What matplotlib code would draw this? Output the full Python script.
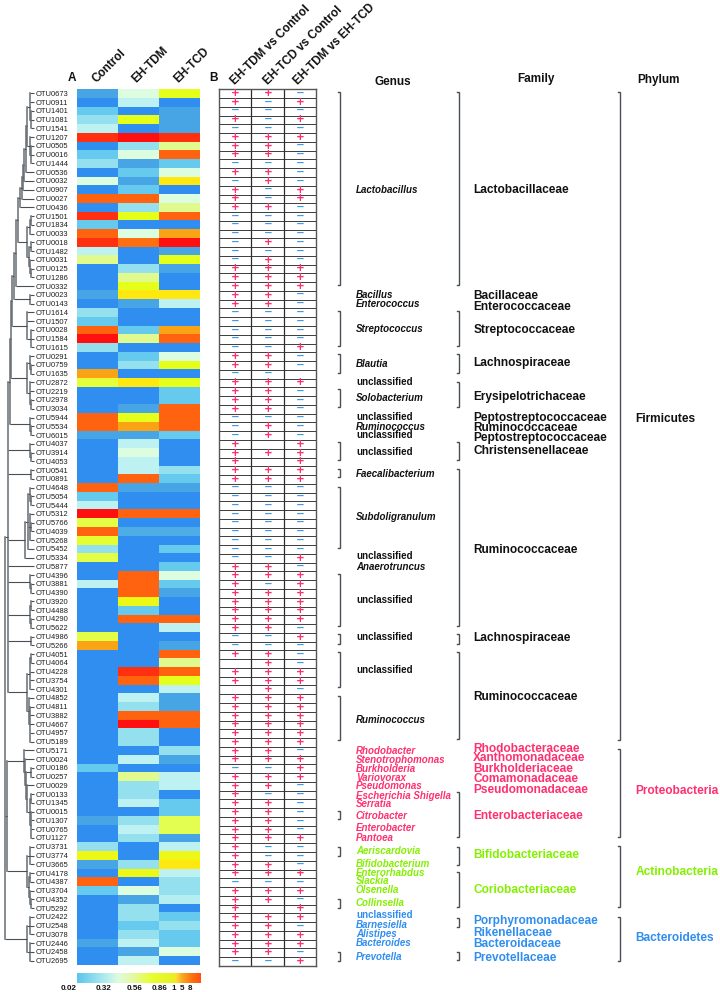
import matplotlib
matplotlib.use("Agg")
import matplotlib.pyplot as plt
from matplotlib.colors import LinearSegmentedColormap, FuncNorm
import numpy as np

plt.rcParams['font.family'] = ['Liberation Sans', 'DejaVu Sans']

W, H = 720, 992

otus = """OTU0673 OTU0911 OTU1401 OTU1081 OTU1541 OTU1207 OTU0505 OTU0016 OTU1444 OTU0536
OTU0032 OTU0907 OTU0027 OTU0436 OTU1501 OTU1834 OTU0033 OTU0018 OTU1482 OTU0031
OTU0125 OTU1286 OTU0332 OTU0023 OTU0143 OTU1614 OTU1507 OTU0028 OTU1584 OTU1615
OTU0291 OTU0759 OTU1635 OTU2872 OTU2219 OTU2978 OTU3034 OTU5944 OTU5534 OTU6015
OTU4037 OTU3914 OTU4053 OTU0541 OTU0891 OTU4648 OTU5054 OTU5444 OTU5312 OTU5766
OTU4039 OTU5268 OTU5452 OTU5334 OTU5877 OTU4396 OTU3881 OTU4390 OTU3920 OTU4488
OTU4290 OTU5622 OTU4986 OTU5266 OTU4051 OTU4064 OTU4228 OTU3754 OTU4301 OTU4852
OTU4811 OTU3882 OTU4667 OTU4957 OTU5189 OTU5171 OTU0024 OTU0186 OTU0257 OTU0029
OTU0133 OTU1345 OTU0015 OTU1307 OTU0765 OTU1127 OTU3731 OTU3774 OTU3665 OTU4178
OTU4387 OTU3704 OTU4352 OTU5292 OTU2422 OTU2548 OTU3078 OTU2446 OTU2458 OTU2695""".split()

groups = ["Control", "EH-TDM", "EH-TCD"]
comparisons = ["EH-TDM vs Control", "EH-TCD vs Control", "EH-TDM vs EH-TCD"]

control = [
    .08, .02, .16, .24, .32, 6.5, .02, .16, .24, .02,
    .42, .02, 5, .02, 6.5, .16, 5, 6.5, .32, .56,
    .02, .02, .02, .08, .02, .24, .16, 5, 8, .24,
    .02, .02, 2, .78, .02, .02, .02, 5, 5, .08,
    .02, .02, .02, .02, .02, 5, .16, .32, 8, .75,
    5, .8, .24, .75, .02, .02, .32, .02, .02, .02,
    .02, .02, .75, 2, .02, .02, .02, .02, .02, .02,
    .02, .02, .02, .02, .02, .02, .02, .16, .02, .02,
    .02, .02, .02, .08, .02, .02, .24, .9, .08, .02,
    5, .16, .02, .02, .02, .02, .02, .08, .02, .02]
eh_tdm = [
    .42, .32, .02, .86, .02, 8, .24, .42, .08, .16,
    .08, .16, 5, .24, .86, .02, .42, 4.5, .02, .02,
    .24, .56, .86, 1, .08, .02, .02, .16, .56, .02,
    .16, .24, .02, 1, .02, .02, .08, .86, 2, .08,
    .32, .42, .32, .32, 5, .08, .02, .02, 5, .02,
    .1, .02, .02, .02, .02, 5, 5, 5, .9, .16,
    5, .02, .02, .02, .02, .02, 6.5, 5, .02, .32,
    .24, 5, 8, .24, .24, .02, .32, .02, .56, .24,
    .24, .32, .02, .24, .32, .24, .02, .02, .24, .9,
    .02, .42, .08, .24, .24, .16, .24, .32, .08, .32]
eh_tcd = [
    .86, .02, .08, .08, .08, 6.5, .56, 5, .16, .42,
    1, .02, .42, .56, 5, .02, 2, 8, .08, .86,
    .08, .02, .02, 1, .32, .02, .02, 2, 5, .02,
    .42, .86, .02, .86, .16, .16, 5, 5, 5, .16,
    .02, .02, .02, .24, .16, .08, .02, .02, 5, .02,
    .1, .02, .16, .02, .16, .42, .16, .08, .02, .02,
    5, .32, .02, .08, 5, .56, 5, .86, .32, .08,
    .08, 5, 5, .02, .02, .24, .08, .02, .32, .32,
    .02, .16, .16, .72, .72, .08, .32, .9, 1, .32,
    .24, .24, .3, .02, .16, .24, .16, .16, .42, .02]

# + up, - down, . not called
tdm_vs_control = list("++-+-+++-+" "-+++------" "+++++-----" "++-++++---" "+++++-----"
                      "----++++++" "++--+.++.+" "+++++++-++" "++++++++++" "-++++++++-")
tcd_vs_control = list("+----+++-+" "+--+---+-+" "+++++-----" "++-++++-++" ".+.++-----"
                      "----++-+++" "++--++++++" "+++++++-++" "-+++++--++" "-++.+++++-")
tdm_vs_tcd = list("-+-+-+----" "-++-------" "+++------+" "--.+------" "+++++-----"
                  "---+-+++++" "+-+---++-+" "+++++-+++-" "-----+---+" "-+-++-++-+")

# clustering, as (merge height, children); a bare int is a row
t0 = (27, [(30, [0, 1, (31, [2, 3, 4])]), (30, [5, (31, [6, 7, 8])])])
chain = (26, [t0, 9])
chain = (24, [chain, 10])
chain = (23, [chain, 11])
chain = (22, [chain, 12])
chain = (20, [chain, 13])
g14 = (27, [(30, [(31, [14, 15]), 16]), (29, [(31, [17, 18]), (30, [19, (31, [20, 21])])])])
chain = (18, [chain, g14])
chain = (16, [chain, 22])
chain = (13.5, [chain, (30, [23, 24])])
chain = (12, [chain, (27, [25, 26, (31, [27, 28, 29])])])
chain = (10.5, [chain, (27, [(30, [30, (31, [31, 32])]), (30, [33, 34, (31, [35, 36])])])])
chain = (9.5, [chain, (30, [37, (31, [38, 39])])])
g45 = (25, [(28, [(30, [45, (31, [46, 47])]), (30, [48, (31, [49, 50]), 51]), 52]), 53])
g64 = (27, [(30, [(31, [64, 65]), 66, 67, 68]), (29, [69, (30, [70, 71, 72, 73, 74])])])
upper = (8, [chain, (30, [40, (31, [41, 42])]), (31, [43, 44]), g45, 54,
             (30, [55, (31, [56, 57])]), (30, [(31, [58, 59]), (31, [60, 61])]),
             (31, [62, 63]), g64])
g75 = (24, [75, (25, [76, (26, [(31, [77, 78]), (27, [79, (30, [(31, [80, 81]),
      (31, [82, 83, 84, 85])])])])])])
g86 = (27, [(30, [86, 87, 88]), (29, [(30, [89, 90]), (30, [91, (31, [92, 93])])])])
g94 = (27, [(30, [94, 95, 96]), (30, [97, 98, 99])])
tree = (5, [upper, (7, [g75, g86]), g94])

genus_names = ["Lactobacillus", "Bacillus", "Enterococcus", "Streptococcus", "Blautia", "unclassified",
               "Solobacterium", "unclassified", "Ruminococcus", "unclassified", "unclassified",
               "Faecalibacterium", "Subdoligranulum", "unclassified", "Anaerotruncus", "unclassified",
               "unclassified", "unclassified", "Ruminococcus", "Rhodobacter", "Stenotrophomonas",
               "Burkholderia", "Variovorax", "Pseudomonas", "Escherichia Shigella", "Serratia",
               "Citrobacter", "Enterobacter", "Pantoea", "Aeriscardovia", "Bifidobacterium",
               "Enterorhabdus", "Slackia", "Olsenella", "Collinsella", "unclassified", "Barnesiella",
               "Alistipes", "Bacteroides", "Prevotella"]
genus_y = [190, 295, 304, 329.3, 363.7, 381.7, 398.3, 416.7, 426.7, 435.3, 451.7, 474.3, 517.3, 555.7,
           566.7, 600.3, 637, 670.3, 720, 751, 760, 769, 777.7, 786, 795.7, 804, 815.7, 828.3, 837.7,
           850.7, 863.7, 872.7, 881.3, 890.3, 902.7, 915.3, 925.3, 934, 942.7, 956.7]
family_names = ["Lactobacillaceae", "Bacillaceae", "Enterococcaceae", "Streptococcaceae", "Lachnospiraceae",
                "Erysipelotrichaceae", "Peptostreptococcaceae", "Ruminococcaceae", "Peptostreptococcaceae",
                "Christensenellaceae", "Ruminococcaceae", "Lachnospiraceae", "Ruminococcaceae",
                "Rhodobacteraceae", "Xanthomonadaceae", "Burkholderiaceae", "Comamonadaceae",
                "Pseudomonadaceae", "Enterobacteriaceae", "Bifidobacteriaceae", "Coriobacteriaceae",
                "Porphyromonadaceae", "Rikenellaceae", "Bacteroidaceae", "Prevotellaceae"]
family_y = [190, 295.7, 306.7, 329.7, 363.3, 397, 418.3, 428, 437.7, 451, 550, 638.3, 697, 749, 758.3,
            768.7, 779, 789.7, 816, 854.7, 890, 920.7, 933, 944.3, 957.7]
phylum_names = ["Firmicutes", "Proteobacteria", "Actinobacteria", "Bacteroidetes"]
phylum_y = [419, 791, 872.3, 938.3]

genus_spans = [(91.7, 285.3), (311, 346), (354.3, 372.7), (389.3, 407.3), (442.3, 460.3), (468.7, 477),
               (486.7, 548), (573.7, 625.7), (634.3, 643.7), (652.3, 687.3), (696, 740), (810.7, 819.3),
               (847.3, 856), (899, 907.7), (952, 960.7)]
family_spans = [(91.7, 285.3), (311, 346), (354.3, 372.7), (381.7, 407.3), (442.3, 460.3), (468.7, 625.7),
                (634.3, 643.7), (652.3, 739.3), (792.3, 837), (847.3, 865.3), (872.3, 907.3),
                (918.3, 927.3), (951.7, 960)]
phylum_spans = [(92.3, 740), (749.3, 836.7), (846, 907.3), (916.7, 960.7)]

scale_labels = ["0.02", "0.32", "0.56", "0.86", "1", "5", "8"]
scale_x = [69, 103, 135, 160, 174, 182, 190]

pink = "#FF3070"
lime = "#84F000"
blue = "#2F8EEF"
black = "#111111"
line = "#4A4F55"

genus_color = [black] * 19 + [pink] * 10 + [lime] * 6 + [blue] * 5
family_color = [black] * 13 + [pink] * 6 + [lime] * 2 + [blue] * 4
phylum_color = [black, pink, lime, blue]

# heat colours are anchored on the abundance steps of the scale bar
steps = [0.02, 0.08, 0.16, 0.24, 0.32, 0.42, 0.56, 0.86, 1, 2, 5, 6.5, 8]
step_colors = ["#2F8EEF", "#47A5E5", "#66CBEE", "#93E0EE", "#BEF2F2", "#DDFDE0", "#E0FA90",
               "#E6FF1A", "#FFE810", "#F9A515", "#FF6410", "#FF3010", "#FF1010"]
pos = np.linspace(0, 1, len(steps))
cmap = LinearSegmentedColormap.from_list("abund", list(zip(pos, step_colors)))
norm = FuncNorm((lambda v: np.interp(v, steps, pos), lambda p: np.interp(p, pos, steps)), vmin=0.02, vmax=8)

fig = plt.figure(figsize=(W / 100, H / 100), dpi=100, facecolor="white")


def px_axes(x0, y0, x1, y1):
    return fig.add_axes([x0 / W, 1 - y1 / H, (x1 - x0) / W, (y1 - y0) / H])


# overlay in pixel coordinates, for the annotation columns
over = px_axes(0, 0, W, H)
over.set_xlim(0, W)
over.set_ylim(H, 0)
over.axis("off")

# A: heatmap
ax = px_axes(76.5, 89, 199.7, 965)
matrix = np.array([control, eh_tdm, eh_tcd]).T
ax.pcolormesh(np.arange(4), np.arange(101), matrix, cmap=cmap, norm=norm, shading="flat")
ax.set_ylim(100, 0)
ax.set_xticks([])
ax.set_yticks(np.arange(100) + 0.5)
ax.set_yticklabels(otus, fontsize=5.45, color="#1c1c1c")
ax.tick_params(axis="y", length=0, pad=6)
for side in ax.spines.values():
    side.set_visible(False)

# dendrogram shares the row scale of the heatmap
den = px_axes(0, 89, 36, 965)
den.set_xlim(0, 36)
den.set_ylim(100, 0)
den.axis("off")


def draw(node):
    if isinstance(node, int):
        return 34, node + 0.5
    x, kids = node
    ys = []
    for kid in kids:
        kx, ky = draw(kid)
        den.plot([x, kx], [ky, ky], color=line, lw=0.8, solid_capstyle="butt")
        ys.append(ky)
    den.plot([x, x], [min(ys), max(ys)], color="#666c72", lw=1.1, solid_capstyle="projecting")
    return x, (min(ys) + max(ys)) / 2


draw(tree)

# B: significance table
tab = px_axes(218.7, 89.3, 316, 966)
tab.set_xlim(0, 3)
tab.set_ylim(100, 0)
tab.set_xticks([])
tab.set_yticks([])
tab.hlines(np.arange(1, 100), 0, 3, color="#3c3c3c", lw=0.7)
tab.vlines([1, 2], 0, 100, color="#2c2c2c", lw=0.9)
for side in tab.spines.values():
    side.set_color("#555555")
    side.set_linewidth(1.0)
for c, col in enumerate([tdm_vs_control, tcd_vs_control, tdm_vs_tcd]):
    for r, sign in enumerate(col):
        if sign == "+":
            tab.annotate("+", (c + 0.52, r + 0.5), color="#FF2F6E", fontsize=7.5, fontweight="bold",
                         family="DejaVu Sans", ha="center", va="center", xytext=(0, 0.4),
                         textcoords="offset points")
        elif sign == "-":
            tab.annotate("\u2212", (c + 0.52, r + 0.45), color="#3E9BEA", fontsize=7.5, fontweight="bold",
                         family="DejaVu Sans", ha="center", va="center", xytext=(0, 0.4),
                         textcoords="offset points")

# scale bar
bar = px_axes(76.5, 972.7, 199.7, 982.7)
bar_cmap = LinearSegmentedColormap.from_list("bar", [
    (0, "#5BC5EC"), (.2, "#A5E8F0"), (.33, "#DFFBE0"), (.46, "#E6F8A0"), (.6, "#E6FF30"),
    (.78, "#E8F020"), (.8, "#FFE030"), (.85, "#F9A820"), (.93, "#FF7010"), (1, "#FF5010")])
bar.imshow(np.linspace(0, 1, 256)[None, :], aspect="auto", cmap=bar_cmap)
bar.axis("off")
for lab, x in zip(scale_labels, scale_x):
    over.text(x, 988, lab, fontsize=5.8, fontweight="bold", ha="center", va="center", color=black)

# rotated headers
for lab, x in zip(groups, [99, 138, 180]):
    over.text(x, 85, lab, rotation=45, rotation_mode="anchor", fontsize=8.5, fontweight="bold",
              ha="left", va="bottom", color=black)
for lab, x in zip(comparisons, [237, 270, 300]):
    over.text(x, 87, lab, rotation=45, rotation_mode="anchor", fontsize=8.5, fontweight="bold",
              ha="left", va="bottom", color=black)
over.text(71.5, 78, "A", fontsize=8.5, fontweight="bold", ha="center", va="center", color=black)
over.text(214, 78, "B", fontsize=8.5, fontweight="bold", ha="center", va="center", color=black)

for lab, x, y in zip(["Genus", "Family", "Phylum"], [392.7, 535.7, 659], [81.7, 79.3, 80]):
    over.text(x, y, lab, fontsize=8.5, fontweight="bold", ha="center", va="center", color=black)

# annotation columns
for name, y, col in zip(genus_names, genus_y, genus_color):
    style = "normal" if name == "unclassified" else "italic"
    over.text(356, y, name, fontsize=7, fontweight="bold", style=style, ha="left", va="center", color=col)
for name, y, col in zip(family_names, family_y, family_color):
    over.text(473.3, y, name, fontsize=8.6, fontweight="bold", ha="left", va="center", color=col)
for name, y, col in zip(phylum_names, phylum_y, phylum_color):
    over.text(635.5, y, name, fontsize=8.6, fontweight="bold", ha="left", va="center", color=col)

# brackets
for spans, x, stub in [(genus_spans, 340, 2.5), (family_spans, 459, 2.5), (phylum_spans, 620.3, 2)]:
    for y0, y1 in spans:
        over.plot([x - stub, x, x, x - stub], [y0, y0, y1, y1], color=line, lw=1.0,
                  solid_joinstyle="miter")

fig.savefig("out.png", dpi=100, facecolor="white")
